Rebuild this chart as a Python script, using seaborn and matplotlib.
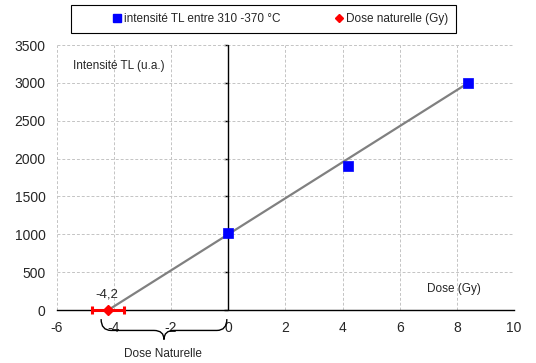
import numpy as np
import pandas as pd
import matplotlib
matplotlib.use("Agg")
import matplotlib.pyplot as plt
import seaborn as sns
from matplotlib.path import Path
from matplotlib.patches import PathPatch, Rectangle
from matplotlib.lines import Line2D

# données
dose_gy = [0.0, 4.2, 8.4]
intensite_tl = [1020, 1900, 3000]
dose_nat = [-4.2]
dose_nat_y = [0]
dose_nat_err = [0.56]
droite_x = [-4.2, 8.4]
droite_y = [0, 3000]

sns.set_style("white")
plt.rcParams['font.family'] = ['Liberation Sans', 'DejaVu Sans']
plt.rcParams['axes.unicode_minus'] = False

fig = plt.figure(figsize=(5.36, 3.63), dpi=100)
ax = fig.add_axes([0.106, 0.146, 0.853, 0.730])

df = pd.DataFrame({'dose': dose_gy, 'tl': intensite_tl})
sns.lineplot(x=droite_x, y=droite_y, ax=ax, color='#808080', linewidth=1.6, zorder=3)
sns.scatterplot(data=df, x='dose', y='tl', ax=ax, marker='s', s=50, color='#0000ff',
                edgecolor='#0000ff', linewidth=0.5, zorder=5)
ax.errorbar(dose_nat, dose_nat_y, xerr=dose_nat_err, fmt='D', color='#ff0000', ms=5.5,
            elinewidth=2.2, capsize=3, capthick=2.2, zorder=6, clip_on=False)

ax.set_xlim(-6, 10)
ax.set_ylim(0, 3500)
ax.set_xticks(np.arange(-6, 11, 2))
ax.set_yticks(np.arange(0, 3501, 500))
ax.grid(True, color='#c4c4c4', linestyle=(0, (3, 2)), linewidth=0.7)
ax.set_axisbelow(True)
for s in ['left', 'top', 'right']:
    ax.spines[s].set_visible(False)
ax.spines['bottom'].set_color('black')
ax.spines['bottom'].set_linewidth(1.0)
ax.tick_params(axis='x', direction='out', length=4, width=1, color='black', labelsize=10, pad=4)
ax.tick_params(axis='y', length=0, labelsize=10, pad=8)
ax.set_xlabel('')
ax.set_ylabel('')

# axe vertical à x = 0
ax.axvline(0, color='black', linewidth=1.0, zorder=2.5)
yax = ax.secondary_yaxis(6 / 16)
yax.spines['left'].set_visible(False)
yax.set_yticks(np.arange(0, 3501, 500))
yax.tick_params(axis='y', direction='out', length=3, width=1, color='black', labelleft=False)

ax.text(-5.45, 3220, 'Intensité TL (u.a.)', fontsize=8.5, va='center', ha='left')
ax.text(7.9, 280, 'Dose (Gy)', fontsize=8.5, va='center', ha='center')
ax.text(-4.25, 210, '-4,2', fontsize=9.5, va='center', ha='center')

# accolade "Dose Naturelle"
x0, x1, xm = -4.45, -0.05, -2.25
y0, ym, yt = -120, -270, -390
verts = [(x0, y0), (x0, ym), (x0 + 0.35, ym),
         (xm - 0.35, ym), (xm, ym), (xm, yt),
         (xm, ym), (xm + 0.35, ym),
         (x1 - 0.35, ym), (x1, ym), (x1, y0)]
codes = [Path.MOVETO, Path.CURVE3, Path.CURVE3,
         Path.LINETO, Path.CURVE3, Path.CURVE3,
         Path.CURVE3, Path.CURVE3,
         Path.LINETO, Path.CURVE3, Path.CURVE3]
ax.add_patch(PathPatch(Path(verts, codes), fill=False, edgecolor='black', linewidth=1.0, clip_on=False))
ax.text(-2.3, -585, 'Dose Naturelle', fontsize=8.5, va='center', ha='center', clip_on=False)

# légende encadrée
fig.patches.append(Rectangle((71 / 536, 1 - 33 / 363), 385 / 536, 28 / 363, transform=fig.transFigure,
                             fill=False, edgecolor='black', linewidth=0.8))
handles = [Line2D([], [], marker='s', color='#0000ff', linestyle='', ms=6),
           Line2D([], [], marker='D', color='#ff0000', linestyle='', ms=4.5)]
fig.legend(handles, ['intensité TL entre 310 -370 °C', 'Dose naturelle (Gy)'],
           loc='center', bbox_to_anchor=(281 / 536, 1 - 19 / 363), ncol=2, frameon=False,
           fontsize=8.5, handlelength=0.6, handletextpad=0.3, columnspacing=4.6)

fig.savefig('out.png', dpi=100)
